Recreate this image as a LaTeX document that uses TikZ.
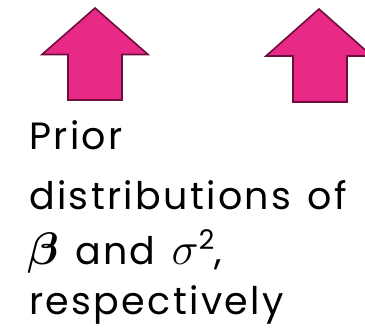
\RequirePackage{fix-cm}
\documentclass[tikz,border=0pt]{standalone}
\usepackage{fontspec}
\usepackage{amsmath,bm,graphicx}
\setmainfont[Ligatures=NoCommon,LetterSpace=6.2,WordSpace=1.3]{Poppins}
\definecolor{pinkfill}{RGB}{232,41,134}
\definecolor{pinkedge}{RGB}{110,14,60}
\begin{document}
\begin{tikzpicture}[x=1pt,y=-1pt,
  uparrow/.style={fill=pinkfill,draw=pinkedge,line width=1.6pt,line join=miter},
  lbl/.style={anchor=base west,inner sep=0pt,font=\fontsize{38}{55}\selectfont}]
\useasboundingbox (0,0) rectangle (365,334);
\begin{scope}
\clip (0,0) rectangle (365,334);
\draw[uparrow] (95,8) -- (148,54.5) -- (122,54.5) -- (122,100) -- (68,100) -- (68,54.5) -- (42,54.5) -- cycle;
\draw[uparrow] (319,9) -- (372,56) -- (347,56) -- (347,102) -- (293,102) -- (293,56) -- (266,56) -- cycle;
\end{scope}
\node[lbl] (l1) at (29,150) {Prior};
\node[lbl] (l2) at (29,210) {distributions of};
\node[lbl] (l3) at (27,265) {\scalebox{1.2}{$\bm{\beta}$} and \scalebox{1.2}{$\sigma$}\raisebox{15pt}{\fontsize{27}{30}\selectfont 2},};
\node[lbl] (l4) at (29,315) {respectively};
\end{tikzpicture}
\end{document}
